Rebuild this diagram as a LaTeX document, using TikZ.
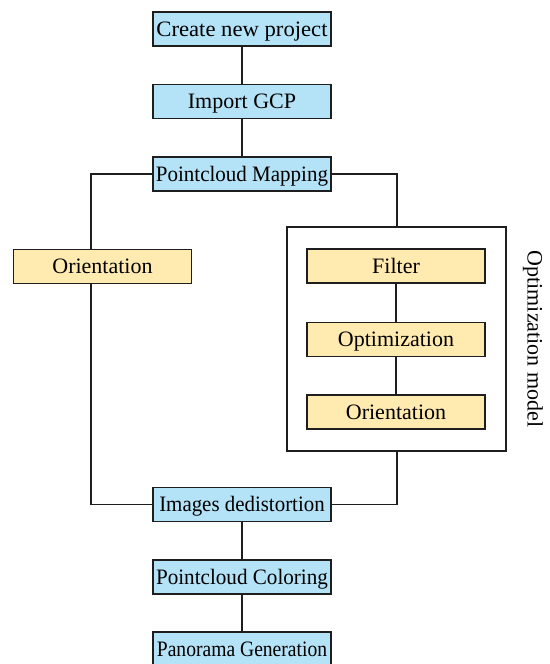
\documentclass[tikz,border=0pt]{standalone}
\usepackage{fontspec}
\setmainfont{Liberation Serif}
\definecolor{boxblue}{RGB}{180,226,246}
\definecolor{boxyellow}{RGB}{255,234,176}
\definecolor{linec}{RGB}{30,30,30}
\newcommand{\sqz}[2]{\scalebox{#1}[1]{#2}}
\begin{document}
\begin{tikzpicture}[x=1pt,y=-1pt,
  bluebox/.style={draw=linec,line width=1.4pt,fill=boxblue,minimum width=178pt,minimum height=34pt,inner sep=0pt,text height=14.5pt,text depth=0pt,font=\fontsize{22}{24}\selectfont},
  yellowbox/.style={draw=linec,line width=1.4pt,fill=boxyellow,minimum width=178pt,minimum height=34pt,inner sep=0pt,text height=14.5pt,text depth=0pt,font=\fontsize{22}{24}\selectfont},
  conn/.style={draw=linec,line width=1.3pt},
  groupbox/.style={draw=linec,line width=1.4pt,minimum width=219pt,minimum height=224pt,inner sep=0pt}]
\useasboundingbox (0,0) rectangle (549,664);
\node[bluebox] (create) at (242,29) {\sqz{1.03}{Create new project}};
\node[bluebox] (gcp) at (242,101.5) {Import GCP};
\node[bluebox] (map) at (242,174) {\sqz{0.955}{Pointcloud Mapping}};
\node[yellowbox] (lori) at (102.5,266.5) {Orientation};
\node[groupbox] (group) at (396.5,339) {};
\node[yellowbox] (filter) at (396,266) {Filter};
\node[yellowbox] (opt) at (396,339.5) {Optimization};
\node[yellowbox] (rori) at (396,412) {Orientation};
\node[rotate=-90,font=\fontsize{22}{24}\selectfont] (glabel) at (533,339) {Optimization model};
\node[bluebox] (dedist) at (242,504.5) {\sqz{0.95}{Images dedistortion}};
\node[bluebox] (color) at (242,577) {\sqz{0.96}{Pointcloud Coloring}};
\node[bluebox] (pano) at (242,649) {\sqz{0.89}{Panorama Generation}};
\coordinate (ltop) at (91,174);
\coordinate (lbot) at (91,504.5);
\coordinate (rtop) at (397,174);
\coordinate (rbot) at (397,504.5);
\draw[conn] (create) -- (gcp);
\draw[conn] (gcp) -- (map);
\draw[conn] (map.west) -- (ltop) -- (ltop |- lori.north);
\draw[conn] (ltop |- lori.south) -- (lbot) -- (dedist.west);
\draw[conn] (map.east) -- (rtop) -- (rtop |- group.north);
\draw[conn] (rbot |- group.south) -- (rbot) -- (dedist.east);
\draw[conn] (filter) -- (opt);
\draw[conn] (opt) -- (rori);
\draw[conn] (dedist) -- (color);
\draw[conn] (color) -- (pano);
\end{tikzpicture}
\end{document}
